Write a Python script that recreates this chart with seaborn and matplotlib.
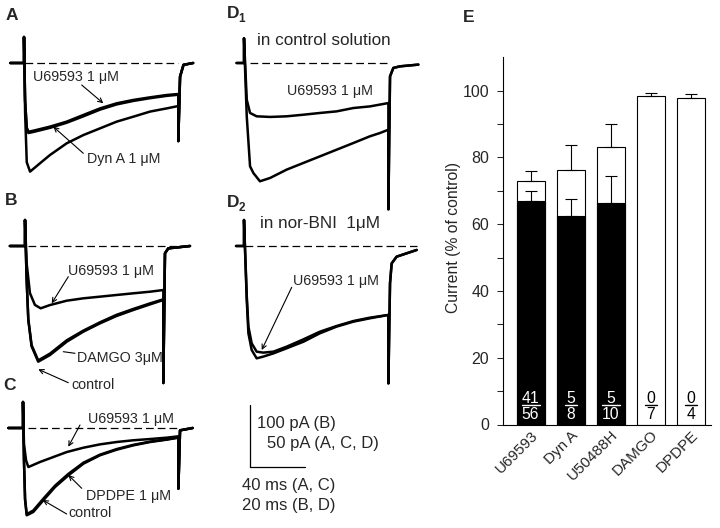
import numpy as np
import pandas as pd
import matplotlib
matplotlib.use("Agg")
import matplotlib.pyplot as plt
import seaborn as sns

sns.set_style("white")
plt.rcParams['font.family'] = ['Liberation Sans', 'DejaVu Sans']

# ---- trace data (time in ms from step onset, current in pA) ----
# Panel A (40 ms / 50 pA scale)
A_t_ctrl = [-10, 0, 0, 0.8, 2, 4.4, 11.6, 18.9, 31.0, 43.2, 55.3, 67.4, 79.5, 91.6, 103.8, 112.2, 112.2, 113.5, 116, 123]
A_ctrl = [0, 0, 21, -40, -80, -87.6, -80.9, -74.2, -64.8, -58.1, -52.7, -47.3, -43.3, -39.2, -36.6, -34.7, -63, -11, -1.5, 0]
A_t_drug = [-10, 0, 0, 0.8, 2, 3.2, 6.8, 18.9, 31.0, 43.2, 55.3, 67.4, 79.5, 91.6, 103.8, 112.2, 112.2, 113.5, 116, 123]
A_u69 = [0, 0, 21, -30, -52, -55.4, -54.6, -51.3, -47.3, -41.9, -36.6, -32.5, -29.8, -27.7, -25.8, -25.0, -63, -11, -1.5, 0]
A_dyn = [0, 0, 21, -31, -53, -56.5, -55.6, -52.3, -48.2, -43.0, -37.6, -33.4, -30.6, -28.4, -26.5, -25.6, -63, -11, -1.5, 0]

# Panel B (20 ms / 100 pA scale)
B_t_ctrl = [-5.5, 0, 0, 0.6, 1.2, 2.4, 3.0, 4.8, 9.1, 15.2, 21.2, 27.3, 33.3, 39.4, 45.5, 50.3, 50.3, 50.9, 52.1, 60]
B_ctrl = [0, 0, 42, -55, -119, -162, -168, -186.6, -175.8, -154.3, -138.2, -124.7, -112.9, -103.2, -94.1, -87.1, -221, -11.8, -3.8, 0]
B_damgo = [0, 0, 42, -55, -118, -160, -166, -184.5, -173.5, -152.0, -136.5, -123.0, -111.0, -101.5, -92.5, -86.0, -221, -11.8, -3.8, 0]
B_t_u69 = [-5.5, 0, 0, 0.6, 1.8, 3.6, 5.7, 9.1, 15.2, 21.2, 27.3, 33.3, 39.4, 45.5, 50.3, 50.3, 50.9, 52.1, 60]
B_u69 = [0, 0, 42, -28, -76, -95, -100.5, -95.2, -88.2, -84.4, -81.7, -79, -76.3, -73.7, -71, -221, -11.8, -3.8, 0]

# Panel C (40 ms / 50 pA scale)
C_t_ctrl = [-10.7, 0, 0, 0.7, 1.5, 2.7, 7.5, 14.8, 23.3, 33.0, 43.9, 56.0, 68.1, 80.2, 92.4, 104.5, 113.0, 113.0, 114.2, 123.4]
C_ctrl = [0, 0, 21, -26, -58, -70.4, -67.7, -58.3, -47.6, -38.2, -28.8, -22.0, -17.5, -14.0, -11.3, -9.4, -7.8, -48.9, -1.9, 0]
C_dpdpe = [0, 0, 21, -26, -57, -69.5, -66.5, -57.0, -46.5, -37.0, -28.0, -21.5, -17.0, -13.6, -11.0, -9.2, -7.6, -48.9, -1.9, 0]
C_t_u69 = [-10.7, 0, 0, 0.7, 2.2, 3.9, 12.4, 22.1, 31.8, 43.9, 56.0, 68.1, 80.2, 92.4, 104.5, 113.0, 113.0, 114.2, 123.4]
C_u69 = [0, 0, 21, -12.6, -26, -31.5, -27.4, -23.4, -19.4, -15.9, -13.2, -11.3, -9.9, -8.9, -7.8, -6.7, -48.9, -1.9, 0]

# Panel D1 (20 ms / 50 pA scale)
D1_t_ctrl = [-2.7, 0, 0, 1.0, 2.2, 3.4, 5.8, 9.5, 15.5, 21.6, 27.6, 33.7, 39.8, 45.8, 49.4, 52.5, 52.5, 53.1, 54.3, 56.7, 63.4]
D1_ctrl = [0, 0, 20, -43, -83.3, -88.7, -95.4, -92.7, -86, -80.6, -75.3, -69.9, -64.5, -59.1, -56.5, -53.8, -118, -10.8, -4, -2.7, -1.3]
D1_t_u69 = [-2.7, 0, 0, 1.0, 2.2, 4.6, 9.5, 15.5, 21.6, 27.6, 33.7, 39.8, 45.8, 52.5, 52.5, 53.1, 54.3, 56.7, 63.4]
D1_u69 = [0, 0, 20, -29.6, -40.3, -43, -43.5, -43, -41.7, -40.3, -39, -36.3, -35, -32.3, -118, -10.8, -4, -2.7, -1.3]

# Panel D2 (20 ms / 50 pA scale)
D2_t = [-2.9, 0, 0, 1.0, 1.6, 2.8, 4.6, 7.0, 10.7, 15.5, 21.6, 27.6, 33.7, 39.8, 45.8, 52.5, 52.5, 53.1, 53.7, 55.5, 62.8]
D2_ctrl = [0, 0, 21, -43.5, -70.4, -83.9, -90.6, -89.2, -86.6, -82.5, -77.2, -70.4, -65, -61, -58.3, -55.6, -110.8, -30, -14, -8.6, -3.2]
D2_u69 = [0, 0, 21, -40, -65, -78.5, -85.2, -86, -85.2, -81.2, -75.3, -69.1, -64.5, -60.5, -57.8, -55.6, -110.8, -30, -14, -8.6, -3.2]

# scale bar (for D panels)
SCALE_MS = 20
SCALE_PA = 50

# ---- bar chart data (panel E) ----
drugs = ["U69593", "Dyn A", "U50488H", "DAMGO", "DPDPE"]
all_cells = [73.0, 76.2, 83.0, 98.5, 97.8]
all_err = [3.0, 7.6, 6.9, 0.9, 1.2]
resp_cells = [67.1, 62.5, 66.3, 0, 0]
resp_err = [2.7, 5.1, 8.1, 0, 0]
n_resp = ["41", "5", "5", "0", "0"]
n_total = ["56", "8", "10", "7", "4"]

W, H = 720, 528
fig = plt.figure(figsize=(7.2, 5.28), dpi=100)


def trace_axes(x0, x1, y0, y1, t0, base, px_ms, px_pa):
    ax = fig.add_axes([x0 / W, 1 - y1 / H, (x1 - x0) / W, (y1 - y0) / H])
    ax.set_xlim((x0 - t0) / px_ms, (x1 - t0) / px_ms)
    ax.set_ylim(-(y1 - base) / px_pa, -(y0 - base) / px_pa)
    ax.axis("off")
    return ax


def trace(ax, t, i, lw=1.8):
    sns.lineplot(x=t, y=i, ax=ax, color="black", lw=lw, estimator=None,
                 sort=False, legend=False)


def dashed(ax, t0, t1):
    ax.plot([t0, t1], [0, 0], color="black", lw=0.9, ls=(0, (6.2, 3.2)))


axA = trace_axes(0, 215, 25, 190, 24, 63, 1.375, 1.24)
trace(axA, A_t_ctrl, A_ctrl)
trace(axA, A_t_drug, A_u69)
trace(axA, A_t_drug, A_dyn)
dashed(axA, 1, 112)

axB = trace_axes(0, 215, 205, 395, 25, 246, 2.75, 0.62)
trace(axB, B_t_ctrl, B_ctrl)
trace(axB, B_t_ctrl, B_damgo)
trace(axB, B_t_u69, B_u69)
dashed(axB, 1.2, 60)

axC = trace_axes(0, 215, 395, 528, 23, 428, 1.375, 1.24)
trace(axC, C_t_ctrl, C_ctrl)
trace(axC, C_t_ctrl, C_dpdpe)
trace(axC, C_t_u69, C_u69)
dashed(axC, 3.9, 113)

axD1 = trace_axes(225, 440, 25, 215, 244, 63, 2.75, 1.24)
trace(axD1, D1_t_ctrl, D1_ctrl)
trace(axD1, D1_t_u69, D1_u69)
dashed(axD1, 2.2, 52.5)

axD2 = trace_axes(225, 440, 200, 528, 244, 246, 2.75, 1.24)
trace(axD2, D2_t, D2_ctrl)
trace(axD2, D2_t, D2_u69)
dashed(axD2, 0.4, 62.8)

# scale bar
sx, sy = 2.2, -178.2
axD2.plot([sx, sx, sx + SCALE_MS], [sy + SCALE_PA, sy, sy], color="black", lw=0.9)

# ---- panel E ----
axE = fig.add_axes([503 / W, 1 - 424.5 / H, 208 / W, 367.2 / H])
df = pd.DataFrame({"drug": drugs, "all": all_cells, "resp": resp_cells})
sns.barplot(data=df, x="drug", y="all", color="white", edgecolor="black",
            linewidth=0.8, width=0.7, saturation=1, ax=axE)
sns.barplot(data=df.iloc[:3], x="drug", y="resp", color="black", edgecolor="black",
            linewidth=0.8, width=0.7, saturation=1, ax=axE, order=drugs)
xs = np.arange(len(drugs))
axE.errorbar(xs, all_cells, yerr=[np.zeros(5), all_err], fmt="none",
             ecolor="black", elinewidth=0.8, capsize=4.6, capthick=0.8)
axE.errorbar(xs[:3], resp_cells[:3], yerr=[np.zeros(3), resp_err[:3]], fmt="none",
             ecolor="black", elinewidth=0.8, capsize=4.6, capthick=0.8)

for i in range(len(drugs)):
    c = "white" if resp_cells[i] > 0 else "black"
    axE.text(i, 7.7, n_resp[i], ha="center", va="center", fontsize=11.3, color=c)
    axE.text(i, 2.9, n_total[i], ha="center", va="center", fontsize=11.3, color=c)
    w = 0.15 * max(len(n_resp[i]), len(n_total[i])) + 0.15
    axE.plot([i - w / 2, i + w / 2], [5.7, 5.7], color=c, lw=1.0)

axE.set_xlim(-0.6875, 4.51)
axE.set_ylim(0, 110)
axE.set_yticks([0, 20, 40, 60, 80, 100])
axE.set_yticks([10, 30, 50, 70, 90], minor=True)
axE.tick_params(axis="y", which="both", direction="out", length=4, width=0.75,
                pad=6, labelsize=11.5, left=True)
axE.tick_params(axis="x", length=0, pad=2.5, labelsize=11)
axE.set_xticks(xs)
axE.set_xticklabels(drugs, rotation=45, ha="right", va="top", rotation_mode="anchor")
axE.set_xlabel("")
axE.set_ylabel("Current (% of control)", fontsize=11.3)
axE.yaxis.set_label_coords(-0.2, 0.508)
sns.despine(ax=axE)
for s in ["left", "bottom"]:
    axE.spines[s].set_linewidth(0.8)
    axE.spines[s].set_color("black")

# ---- overlay for labels and arrows (pixel coordinates) ----
ov = fig.add_axes([0, 0, 1, 1])
ov.set_xlim(0, W)
ov.set_ylim(H, 0)
ov.axis("off")


def txt(x, y, s, size=10.3, **kw):
    ov.text(x, y, s, fontsize=size, va="baseline", ha="left", **kw)


def arrow(x0, y0, x1, y1, head=True):
    ov.annotate("", xy=(x1, y1), xytext=(x0, y0),
                arrowprops=dict(arrowstyle="->" if head else "-", lw=0.8,
                                color="black", shrinkA=0, shrinkB=0,
                                mutation_scale=8))


# panel letters
txt(6, 20, "A", size=12.5, fontweight="bold")
txt(4.5, 205, "B", size=12.5, fontweight="bold")
txt(3, 390, "C", size=12.5, fontweight="bold")
txt(226.5, 18, "D", size=12.5, fontweight="bold")
txt(238.5, 22, "1", size=8.5, fontweight="bold")
txt(226.5, 207, "D", size=12.5, fontweight="bold")
txt(238.5, 211, "2", size=8.5, fontweight="bold")
txt(463, 22, "E", size=12.5, fontweight="bold")

# A
txt(33, 81.5, "U69593 1 \u03bcM")
arrow(81.7, 85, 103.3, 103.3)
txt(86.7, 163.3, "Dyn A 1 \u03bcM")
arrow(83.3, 153.3, 53.3, 126.7)

# B
txt(68.3, 275, "U69593 1 \u03bcM")
arrow(68.3, 276.7, 51.7, 303.3)
txt(76.7, 361.7, "DAMGO 3\u03bcM")
arrow(75, 353.3, 63.3, 351.7, head=False)
txt(71.7, 389.3, "control")
arrow(68.3, 382.7, 38.3, 369.3)

# C
txt(88.3, 423.3, "U69593 1 \u03bcM")
arrow(80, 425, 68.3, 446.7)
txt(86, 500, "DPDPE 1 \u03bcM")
arrow(81.7, 488.3, 68.3, 475)
txt(68.3, 516.7, "control")
arrow(66.7, 514, 42.7, 500)

# D1 / D2
txt(257.3, 45, "in control solution", size=12.3)
txt(286.7, 95, "U69593 1 \u03bcM")
txt(260, 228.3, "in nor-BNI  1\u03bcM", size=12.3)
txt(293.3, 285, "U69593 1 \u03bcM")
arrow(291.7, 287.3, 261.7, 350)

# scale bar text
txt(256.7, 428.3, "100 pA (B)", size=12)
txt(266.7, 448.3, "50 pA (A, C, D)", size=12)
txt(241.7, 490, "40 ms (A, C)", size=12)
txt(241.7, 510, "20 ms (B, D)", size=12)

fig.savefig("out.png", dpi=100)
